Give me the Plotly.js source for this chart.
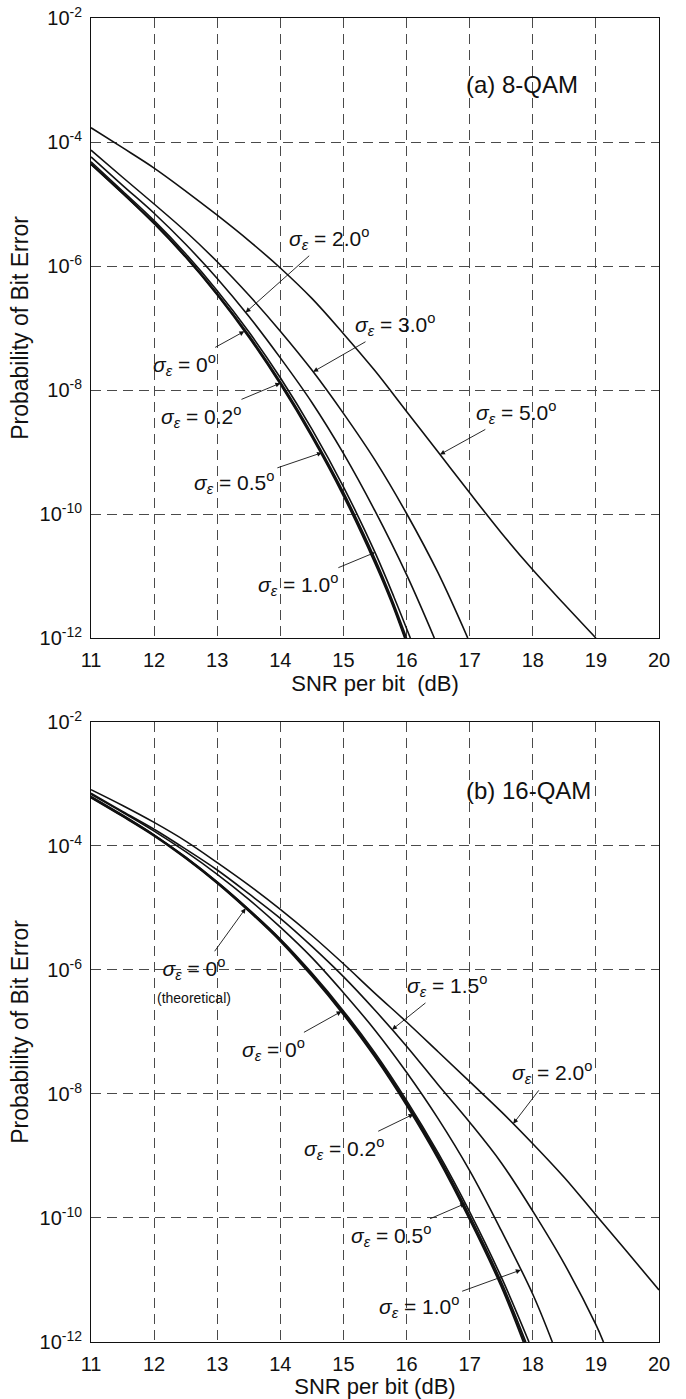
<!DOCTYPE html>
<html>
<head>
<meta charset="utf-8">
<script src="https://cdn.plot.ly/plotly-3.0.1.min.js"></script>
<style>
  html, body { margin: 0; padding: 0; background: #ffffff; }
  #chart { width: 686px; height: 1399px; }
</style>
</head>
<body>
<div id="chart"></div>
<script>
// ---------- (a) 8-QAM : bit error probability vs SNR per bit (dB) ----------
const qam8_s00_x = [11, 11.5, 12, 12.5, 13, 13.5, 14, 14.5, 15, 15.5, 15.75, 15.97];
const qam8_s00_y = [4.37e-5, 1.48e-5, 4.8e-6, 1.38e-6, 3.4e-7, 7.1e-8, 1.23e-8, 1.74e-9, 1.95e-10, 1.6e-11, 4.0e-12, 1e-12];
const qam8_s02_x = [11, 11.5, 12, 12.5, 13, 13.5, 14, 14.5, 15, 15.5, 15.75, 15.98];
const qam8_s02_y = [4.4e-5, 1.5e-5, 4.9e-6, 1.41e-6, 3.5e-7, 7.4e-8, 1.29e-8, 1.84e-9, 2.1e-10, 1.75e-11, 4.3e-12, 1e-12];
const qam8_s05_x = [11, 11.5, 12, 12.5, 13, 13.5, 14, 14.5, 15, 15.5, 15.75, 16.0];
const qam8_s05_y = [4.5e-5, 1.53e-5, 5.0e-6, 1.45e-6, 3.6e-7, 7.7e-8, 1.36e-8, 1.95e-9, 2.25e-10, 1.9e-11, 4.7e-12, 1e-12];
const qam8_s10_x = [11, 11.5, 12, 12.5, 13, 13.5, 14, 14.5, 15, 15.5, 15.8, 16.06];
const qam8_s10_y = [4.8e-5, 1.62e-5, 5.4e-6, 1.58e-6, 4.0e-7, 8.7e-8, 1.58e-8, 2.34e-9, 2.75e-10, 2.4e-11, 4.6e-12, 1e-12];
const qam8_s20_x = [11, 11.5, 12, 12.5, 13, 13.5, 14, 14.5, 15, 15.5, 16, 16.44];
const qam8_s20_y = [5.75e-5, 2.0e-5, 7.1e-6, 2.24e-6, 6.3e-7, 1.55e-7, 3.3e-8, 6.3e-9, 9.5e-10, 1.12e-10, 1.05e-11, 1e-12];
const qam8_s30_x = [11, 11.5, 12, 12.5, 13, 13.5, 14, 14.5, 15, 15.5, 16, 16.5, 16.97];
const qam8_s30_y = [7.4e-5, 2.7e-5, 1.0e-5, 3.6e-6, 1.17e-6, 3.4e-7, 8.9e-8, 2.1e-8, 4.2e-9, 7.4e-10, 1.02e-10, 1.12e-11, 1e-12];
const qam8_s50_x = [11, 11.5, 12, 12.5, 13, 13.5, 14, 14.5, 15, 15.5, 16, 16.5, 17, 17.5, 18, 18.5, 19];
const qam8_s50_y = [1.7e-4, 8.1e-5, 3.8e-5, 1.62e-5, 6.6e-6, 2.57e-6, 9.3e-7, 3.0e-7, 8.1e-8, 2.04e-8, 4.5e-9, 1.0e-9, 2.2e-10, 5.0e-11, 1.26e-11, 3.5e-12, 1.0e-12];

// ---------- (b) 16-QAM ----------
const qam16_th_x = [11, 11.5, 12, 12.5, 13, 13.5, 14, 14.5, 15, 15.5, 16, 16.5, 17, 17.5, 17.85];
const qam16_th_y = [6.0e-4, 3.0e-4, 1.45e-4, 6.3e-5, 2.5e-5, 8.9e-6, 2.9e-6, 7.9e-7, 1.9e-7, 3.9e-8, 6.5e-9, 8.9e-10, 9.3e-11, 7.8e-12, 1e-12];
const qam16_s00_x = [11, 11.5, 12, 12.5, 13, 13.5, 14, 14.5, 15, 15.5, 16, 16.5, 17, 17.5, 17.87];
const qam16_s00_y = [6.1e-4, 3.05e-4, 1.48e-4, 6.4e-5, 2.55e-5, 9.1e-6, 3.0e-6, 8.2e-7, 1.98e-7, 4.1e-8, 6.9e-9, 9.5e-10, 1.0e-10, 8.5e-12, 1e-12];
const qam16_s02_x = [11, 11.5, 12, 12.5, 13, 13.5, 14, 14.5, 15, 15.5, 16, 16.5, 17, 17.5, 17.89];
const qam16_s02_y = [6.2e-4, 3.1e-4, 1.5e-4, 6.6e-5, 2.62e-5, 9.4e-6, 3.1e-6, 8.5e-7, 2.06e-7, 4.3e-8, 7.3e-9, 1.02e-9, 1.09e-10, 9.4e-12, 1e-12];
const qam16_s05_x = [11, 11.5, 12, 12.5, 13, 13.5, 14, 14.5, 15, 15.5, 16, 16.5, 17, 17.5, 17.94];
const qam16_s05_y = [6.3e-4, 3.16e-4, 1.51e-4, 6.6e-5, 2.63e-5, 9.5e-6, 3.16e-6, 8.9e-7, 2.19e-7, 4.6e-8, 7.9e-9, 1.12e-9, 1.26e-10, 1.12e-11, 1e-12];
const qam16_s10_x = [11, 11.5, 12, 12.5, 13, 13.5, 14, 14.5, 15, 15.5, 16, 16.5, 17, 17.5, 18, 18.31];
const qam16_s10_y = [6.8e-4, 3.5e-4, 1.74e-4, 8.1e-5, 3.5e-5, 1.38e-5, 4.9e-6, 1.58e-6, 4.3e-7, 1.07e-7, 2.24e-8, 4.0e-9, 5.8e-10, 6.3e-11, 5.9e-12, 1e-12];
const qam16_s15_x = [11, 11.5, 12, 12.5, 13, 13.5, 14, 14.5, 15, 15.5, 16, 16.5, 17, 17.5, 18, 18.5, 19, 19.12];
const qam16_s15_y = [7.1e-4, 3.6e-4, 1.86e-4, 8.9e-5, 4.1e-5, 1.7e-5, 6.8e-6, 2.4e-6, 7.8e-7, 2.24e-7, 5.9e-8, 1.41e-8, 3.5e-9, 7.8e-10, 1.29e-10, 1.82e-11, 1.9e-12, 1e-12];
const qam16_s20_x = [11, 11.5, 12, 12.5, 13, 13.5, 14, 14.5, 15, 15.5, 16, 16.5, 17, 17.5, 18, 18.5, 19, 19.5, 20];
const qam16_s20_y = [8.1e-4, 4.5e-4, 2.4e-4, 1.2e-4, 5.4e-5, 2.34e-5, 9.5e-6, 3.6e-6, 1.26e-6, 4.2e-7, 1.45e-7, 4.8e-8, 1.58e-8, 5.2e-9, 1.58e-9, 4.5e-10, 1.12e-10, 2.8e-11, 6.9e-12];

// ---------- axes ----------
const xTicks = [11, 12, 13, 14, 15, 16, 17, 18, 19, 20];
const yTicks = [1e-12, 1e-10, 1e-8, 1e-6, 1e-4, 1e-2];
const yTickText = ['10<sup>-12</sup>', '10<sup>-10</sup>', '10<sup>-8</sup>', '10<sup>-6</sup>', '10<sup>-4</sup>', '10<sup>-2</sup>'];
const xTitle8 = 'SNR per bit  (dB)';
const xTitle16 = 'SNR per bit (dB)';
const yTitle = 'Probability of Bit Error';
const panelTitle8 = '(a) 8-QAM';
const panelTitle16 = '(b) 16-QAM';

const FONT = 'Liberation Sans, Arial, Helvetica, sans-serif';
const INK = '#111111';
const LINE = { color: INK, width: 1.6, shape: 'spline', smoothing: 1 };

function curve(xs, ys, xa, ya, name) {
  return { x: xs, y: ys, xaxis: xa, yaxis: ya, name: name, type: 'scatter',
           mode: 'lines', line: LINE, hoverinfo: 'skip', showlegend: false };
}

const traces = [
  curve(qam8_s00_x, qam8_s00_y, 'x', 'y', '0°'),
  curve(qam8_s02_x, qam8_s02_y, 'x', 'y', '0.2°'),
  curve(qam8_s05_x, qam8_s05_y, 'x', 'y', '0.5°'),
  curve(qam8_s10_x, qam8_s10_y, 'x', 'y', '1.0°'),
  curve(qam8_s20_x, qam8_s20_y, 'x', 'y', '2.0°'),
  curve(qam8_s30_x, qam8_s30_y, 'x', 'y', '3.0°'),
  curve(qam8_s50_x, qam8_s50_y, 'x', 'y', '5.0°'),
  curve(qam16_th_x, qam16_th_y, 'x2', 'y2', '0° theory'),
  curve(qam16_s00_x, qam16_s00_y, 'x2', 'y2', '0°'),
  curve(qam16_s02_x, qam16_s02_y, 'x2', 'y2', '0.2°'),
  curve(qam16_s05_x, qam16_s05_y, 'x2', 'y2', '0.5°'),
  curve(qam16_s10_x, qam16_s10_y, 'x2', 'y2', '1.0°'),
  curve(qam16_s15_x, qam16_s15_y, 'x2', 'y2', '1.5°'),
  curve(qam16_s20_x, qam16_s20_y, 'x2', 'y2', '2.0°')
];

// log-linear interpolation along a curve: returns log10(P) at SNR x
function logAt(xs, ys, x) {
  for (let i = 0; i < xs.length - 1; i++) {
    if (x >= xs[i] && x <= xs[i + 1]) {
      const t = (x - xs[i]) / (xs[i + 1] - xs[i]);
      return Math.log10(ys[i]) * (1 - t) + Math.log10(ys[i + 1]) * t;
    }
  }
  return Math.log10(ys[ys.length - 1]);
}

function sigmaLabel(value, extra) {
  let s = '<i>σ</i><sub><i>ε</i></sub> = ' + value + '<sup>o</sup>';
  if (extra) s += '<br><span style="font-size:14px">' + extra + '</span>';
  return s;
}

// arrow callouts: which curve, where the arrow touches it, and where the text sits
function callout(xs, ys, atX, value, dx, dy, xa, ya, extra) {
  return {
    xref: xa, yref: ya, x: atX, y: logAt(xs, ys, atX),
    ax: dx, ay: dy, axref: 'pixel', ayref: 'pixel',
    text: sigmaLabel(value, extra), showarrow: true,
    arrowhead: 2, arrowsize: 1.1, arrowwidth: 0.9, arrowcolor: INK,
    standoff: 0, startstandoff: 2,
    font: { family: FONT, size: 21, color: INK }
  };
}

const annotations = [
  { xref: 'x', yref: 'y', x: 17.83, y: -3.08, text: panelTitle8, showarrow: false,
    font: { family: FONT, size: 24, color: INK } },
  callout(qam8_s20_x, qam8_s20_y, 13.45, '2.0', 83, -74, 'x', 'y'),
  callout(qam8_s30_x, qam8_s30_y, 14.52, '3.0', 82, -47, 'x', 'y'),
  callout(qam8_s00_x, qam8_s00_y, 13.43, '0', -60, 33, 'x', 'y'),
  callout(qam8_s02_x, qam8_s02_y, 14.0, '0.2', -79, 33, 'x', 'y'),
  callout(qam8_s05_x, qam8_s05_y, 14.66, '0.5', -88, 30, 'x', 'y'),
  callout(qam8_s10_x, qam8_s10_y, 15.5, '1.0', -77, 32, 'x', 'y'),
  callout(qam8_s50_x, qam8_s50_y, 16.53, '5.0', 76, -42, 'x', 'y'),

  { xref: 'x2', yref: 'y2', x: 17.93, y: -3.10, text: panelTitle16, showarrow: false,
    font: { family: FONT, size: 24, color: INK } },
  callout(qam16_th_x, qam16_th_y, 13.45, '0', -52, 72, 'x2', 'y2', '(theoretical)'),
  callout(qam16_s00_x, qam16_s00_y, 14.97, '0', -68, 38, 'x2', 'y2'),
  callout(qam16_s02_x, qam16_s02_y, 16.11, '0.2', -70, 34, 'x2', 'y2'),
  callout(qam16_s05_x, qam16_s05_y, 16.93, '0.5', -74, 32, 'x2', 'y2'),
  callout(qam16_s10_x, qam16_s10_y, 17.81, '1.0', -102, 37, 'x2', 'y2'),
  callout(qam16_s15_x, qam16_s15_y, 15.77, '1.5', 55, -44, 'x2', 'y2'),
  callout(qam16_s20_x, qam16_s20_y, 17.69, '2.0', 39, -51, 'x2', 'y2')
];

function xAxis(anchor, title) {
  return {
    anchor: anchor, domain: [0, 1], range: [11, 20],
    tickmode: 'array', tickvals: xTicks, ticktext: xTicks.map(String),
    ticks: '', ticklabelstandoff: 4,
    showgrid: true, gridcolor: '#4a4a4a', gridwidth: 1, griddash: '10px,6px',
    zeroline: false, showline: true, mirror: true, linecolor: INK, linewidth: 1,
    tickfont: { family: FONT, size: 20, color: INK },
    title: { text: title, standoff: 2, font: { family: FONT, size: 22, color: INK } },
    fixedrange: true
  };
}
function yAxis(anchor, domain) {
  return {
    anchor: anchor, domain: domain, type: 'log', range: [-12, -2],
    tickmode: 'array', tickvals: yTicks, ticktext: yTickText,
    ticks: '', ticklabelstandoff: 4,
    showgrid: true, gridcolor: '#4a4a4a', gridwidth: 1, griddash: '10px,6px',
    zeroline: false, showline: true, mirror: true, linecolor: INK, linewidth: 1,
    tickfont: { family: FONT, size: 20, color: INK },
    title: { text: yTitle, standoff: 4, font: { family: FONT, size: 23, color: INK } },
    fixedrange: true
  };
}

const layout = {
  width: 686, height: 1399,
  margin: { l: 91, r: 27, t: 18, b: 57, pad: 0 },
  paper_bgcolor: '#ffffff', plot_bgcolor: '#ffffff',
  font: { family: FONT, size: 20, color: INK },
  showlegend: false,
  xaxis: xAxis('y', xTitle8),
  yaxis: yAxis('x', [0.5317, 1]),
  xaxis2: xAxis('y2', xTitle16),
  yaxis2: yAxis('x2', [0, 0.46828]),
  annotations: annotations
};

Plotly.newPlot('chart', traces, layout, { staticPlot: true, displayModeBar: false });
</script>
</body>
</html>
